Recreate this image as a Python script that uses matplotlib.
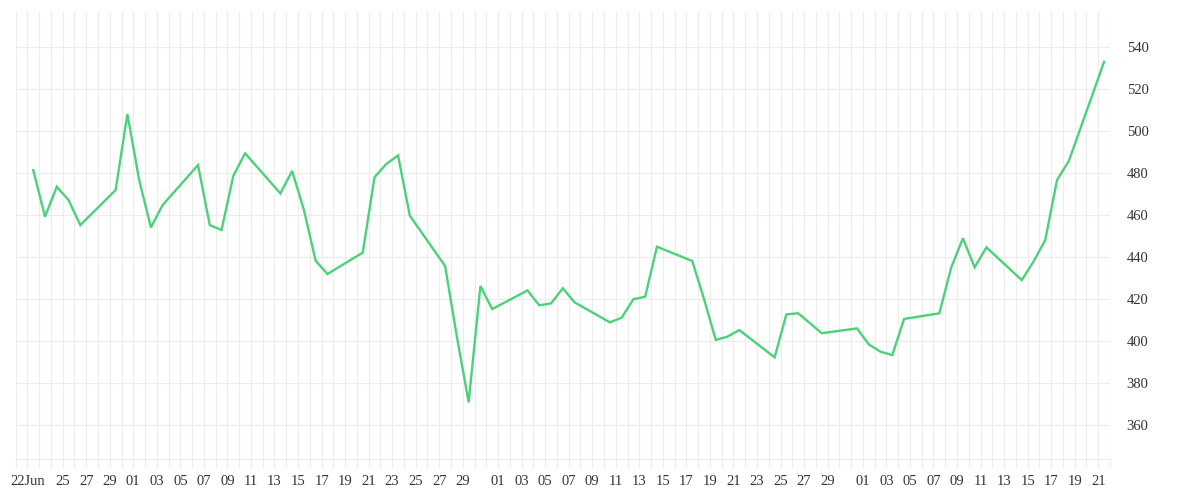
import numpy as np
import pandas as pd
import matplotlib
matplotlib.use("Agg")
from matplotlib import pyplot as plt

# trading days, one value per weekday from 22 Jun to 21 Sep
start_day = "2015-06-22"
end_day = "2015-09-21"
values = [
    481.4, 459.2, 473.5, 467.1, 455.2,
    471.9, 508.1, 476.7, 454.1, 464.8,
    483.8, 455.2, 452.9, 478.6, 489.4,
    470.3, 481.0, 462.4, 438.2, 431.9,
    442.1, 478.0, 484.3, 488.4, 459.7,
    435.7, 402.0, 370.8, 426.2, 415.2,
    424.1, 417.0, 417.9, 425.1, 418.4,
    408.9, 411.1, 419.9, 421.1, 444.9,
    438.1, 420.0, 400.5, 402.1, 405.2,
    392.2, 412.7, 413.2, 408.5, 403.7,
    406.0, 398.4, 394.9, 393.3, 410.5,
    413.2, 434.9, 448.9, 435.1, 444.6,
    429.0, 437.8, 448.1, 476.7, 485.7,
    533.0,
]
y_ticks = [360, 380, 400, 420, 440, 460, 480, 500, 520, 540]

dates = pd.bdate_range(start_day, end_day)
# points sit in the middle of each day column
x = dates + pd.Timedelta(hours=12)

# x tick labels: first date, then odd days of the month (31 left out)
tick_days = [pd.Timestamp(start_day)]
tick_labels = ["22Jun"]
for d in pd.date_range("2015-06-25", end_day):
    if d.day % 2 == 1 and d.day != 31:
        tick_days.append(d)
        tick_labels.append(d.strftime("%d"))

grid_col = "#ececec"
text_col = "#333333"

fig = plt.figure(figsize=(12, 5), dpi=100)
ax = fig.add_axes([0.013, 0.082, 0.912, 0.894])

ax.plot(x, values, color="#4cd17b", lw=1.7, solid_joinstyle="miter", zorder=3)

ax.set_xlim(pd.Timestamp("2015-06-21"), pd.Timestamp("2015-09-22"))
ax.set_ylim(343.8, 556.7)

ax.set_xticks(pd.date_range("2015-06-21", "2015-09-22"), minor=True)
ax.set_xticks(tick_days)
ax.set_xticklabels(tick_labels)
ax.set_yticks(y_ticks)
ax.yaxis.tick_right()

ax.grid(True, which="both", axis="x", color=grid_col, lw=0.8)
ax.grid(True, which="major", axis="y", color=grid_col, lw=0.8)
ax.set_axisbelow(True)

for s in ["top", "left", "right"]:
    ax.spines[s].set_visible(False)
ax.spines["bottom"].set_color(grid_col)
ax.spines["bottom"].set_linewidth(0.8)

ax.tick_params(axis="x", which="both", length=6.5, color=grid_col, width=0.8,
               labelsize=10.5, labelcolor=text_col, pad=5)
ax.tick_params(axis="y", length=0, labelsize=10.5, labelcolor=text_col, pad=12)
for lab in ax.get_xticklabels() + ax.get_yticklabels():
    lab.set_fontfamily("Liberation Serif")

fig.savefig("out.png", dpi=100)
